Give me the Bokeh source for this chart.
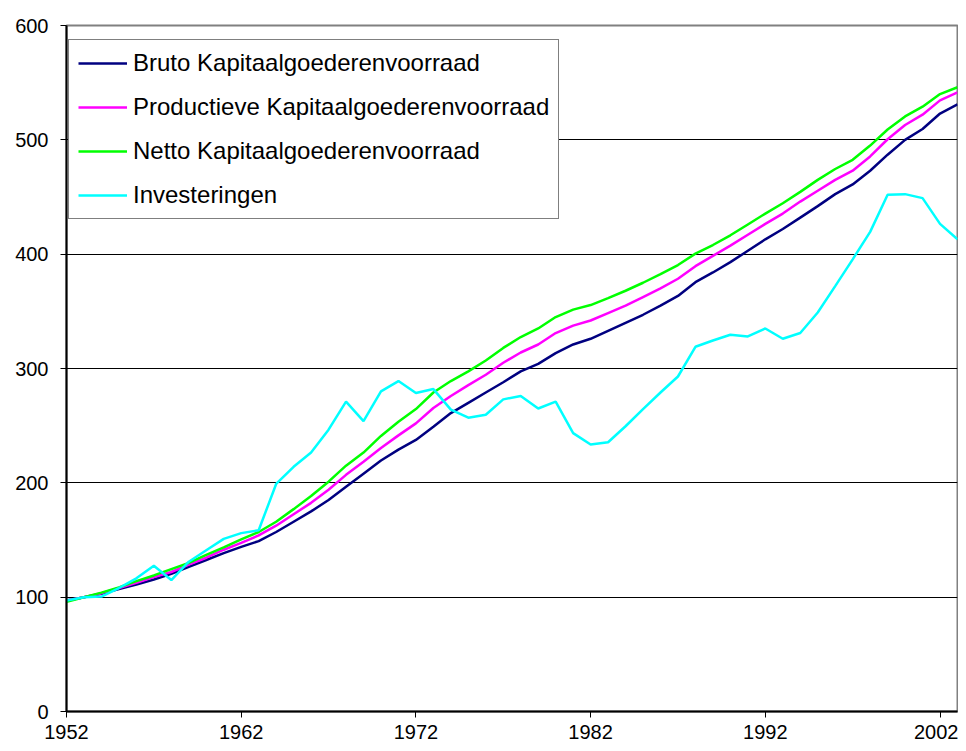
from bokeh.plotting import figure
from bokeh.models import FixedTicker, Legend, LegendItem, Range1d, LinearAxis
from bokeh.embed import file_html
from bokeh.resources import INLINE

years = list(range(1952, 2004))

bruto = [97, 100, 103, 107, 111, 115.5, 120.5, 126.5, 132.5, 138.5,
         144, 149, 157, 166, 175, 185, 196.5, 208, 219.5, 229,
         237.5, 249, 261, 270, 279, 288, 297.5, 304, 313.5, 321,
         326, 333, 340, 347, 355, 363.5, 375.5, 384, 393, 403,
         413, 422, 432, 442, 452.5, 461, 473, 487, 500, 509.5,
         523, 531]

productief = [97, 100, 103.5, 108, 112.5, 117.5, 122, 128.5, 134.5, 141.5,
              147.5, 154, 162.5, 172.5, 182.5, 194, 207, 218.5, 230.5, 241.5,
              252, 265.5, 276, 285.5, 294.5, 305, 314, 321, 331, 337.5,
              342, 348.5, 355, 362.5, 370, 378.5, 389.5, 398.5, 407.5, 417,
              426.5, 435.5, 446, 455.5, 465, 473, 485.5, 500.5, 513, 522,
              534.5, 541.5]

netto = [96, 100, 104, 108.5, 114, 119, 124.5, 130, 137, 143.5,
         150.5, 157, 166, 177, 188.5, 201, 215, 226.5, 241, 253.5,
         264.5, 279, 289, 297.5, 307, 318, 327.5, 335, 345, 351.5,
         355.5, 361.5, 368, 375, 382.5, 390.5, 400.5, 408, 416.5, 426,
         435.5, 444.5, 454.5, 465, 474.5, 482.5, 495, 509, 520.5, 529,
         540, 546]

investeringen = [97, 100, 100.5, 108, 116.5, 127.5, 115, 131, 141, 151,
                 156, 158.5, 199, 214, 226.5, 246.5, 271, 254, 280, 289,
                 278.5, 282, 264, 257, 259.5, 273, 276, 265, 271, 243.5,
                 233.5, 235.5, 249.5, 264.5, 279, 293, 319, 324.5, 329.5, 328,
                 335, 326, 331, 349, 372, 395.5, 419.5, 452, 452.5, 449,
                 426.5, 413]

labels = ["Bruto Kapitaalgoederenvoorraad",
          "Productieve Kapitaalgoederenvoorraad",
          "Netto Kapitaalgoederenvoorraad",
          "Investeringen"]
colors = ["#000080", "#FF00FF", "#00FF00", "#00FFFF"]
series = [bruto, productief, netto, investeringen]

x_ticks = [1952, 1962, 1972, 1982, 1992, 2002]
y_ticks = [0, 100, 200, 300, 400, 500, 600]

FONT = "Liberation Sans"

p = figure(frame_width=891, frame_height=686,
           min_border_left=66, min_border_top=25, min_border_bottom=38,
           min_border_right=1,
           x_range=Range1d(1952, 2003), y_range=Range1d(0, 600),
           output_backend="svg", toolbar_location=None,
           x_axis_location=None, y_axis_location=None)

p.background_fill_color = "white"
p.border_fill_color = "white"
p.outline_line_color = "#808080"
p.outline_line_width = 2

xaxis = LinearAxis(ticker=FixedTicker(ticks=x_ticks))
yaxis = LinearAxis(ticker=FixedTicker(ticks=y_ticks))
for ax in (xaxis, yaxis):
    ax.axis_line_color = "black"
    ax.axis_line_width = 2
    ax.major_tick_line_color = "black"
    ax.major_tick_line_width = 1
    ax.major_tick_out = 6
    ax.major_tick_in = 0
    ax.minor_tick_line_color = None
    ax.major_label_text_font = FONT
    ax.major_label_text_font_size = "20px"
    ax.major_label_text_color = "black"
xaxis.major_label_standoff = 7
yaxis.major_label_standoff = 12
p.add_layout(xaxis, "below")
p.add_layout(yaxis, "left")

p.xgrid.visible = False
p.ygrid.ticker = FixedTicker(ticks=[100, 200, 300, 400, 500])
p.ygrid.grid_line_color = "black"
p.ygrid.grid_line_width = 1

renderers = []
for vals, col in zip(series, colors):
    r = p.line(years, vals, line_color=col, line_width=2.5)
    renderers.append(r)

legend = Legend(items=[LegendItem(label=l, renderers=[r]) for l, r in zip(labels, renderers)],
                location=(2, 492))
legend.border_line_color = "black"
legend.border_line_width = 1
legend.background_fill_color = "white"
legend.background_fill_alpha = 1
legend.label_text_font = FONT
legend.label_text_font_size = "24px"
legend.label_text_color = "black"
legend.glyph_width = 49
legend.glyph_height = 28
legend.label_height = 28
legend.label_standoff = 6
legend.spacing = 16
legend.padding = 9
legend.margin = 0
p.add_layout(legend, "center")

open("out.html", "w").write(file_html(p, INLINE))
